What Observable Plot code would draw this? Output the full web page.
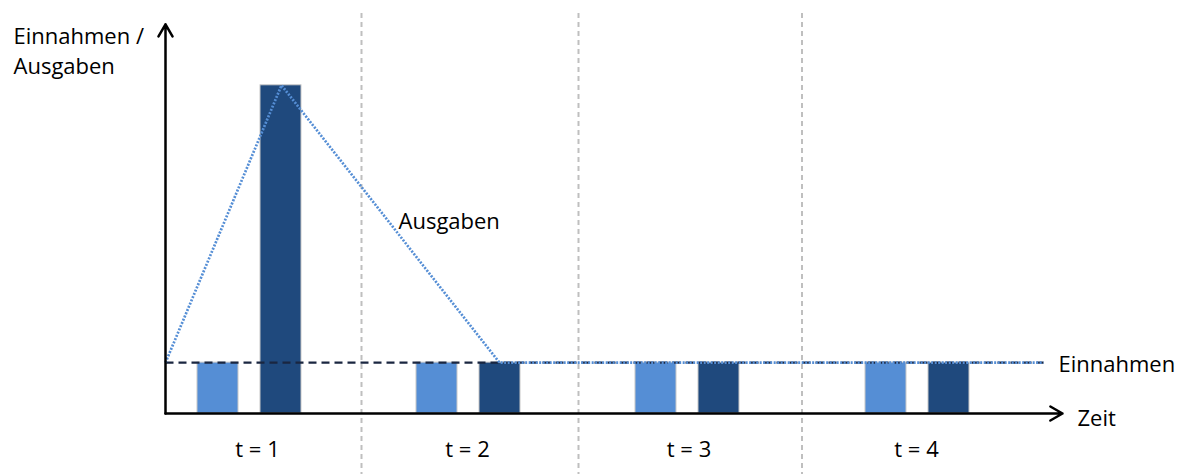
<!DOCTYPE html>
<html>
<head>
<meta charset="utf-8">
<script src="https://cdn.jsdelivr.net/npm/d3@7"></script>
<script src="https://cdn.jsdelivr.net/npm/@observablehq/plot@0.6"></script>
<style>
  html, body { margin: 0; padding: 0; background: #ffffff; }
  #chart svg { display: block; }
</style>
</head>
<body>
<div id="chart"></div>
<script>
// ---- data (time units along x, money units along y; Einnahmen = 1) ----
const periods = ["t = 1", "t = 2", "t = 3", "t = 4"];
const periodCenters = [0.92, 3.02, 5.235, 7.51];
const periodBounds = [1.96, 4.13, 6.365];
const einnahmenStart = [0.32, 2.51, 4.70, 7.00];
const ausgabenStart = [0.95, 3.14, 5.33, 7.63];
const barWidth = 0.41;
const einnahmenValues = [1, 1, 1, 1];
const ausgabenValues = [6.45, 1, 1, 1];
// Ausgaben curve (dotted)
const ausgabenCurveX = [0, 1.16, 3.34, 8.78];
const ausgabenCurveY = [1, 6.45, 1, 1];
// Einnahmen level (dashed)
const einnahmenLineX = [0, 8.78];
const einnahmenLevel = 1;
const axisTopY = 7.65;
const axisEndX = 8.97;

const einnahmenBars = periods.map((p, i) => ({period: p, x1: einnahmenStart[i], x2: einnahmenStart[i] + barWidth, y: einnahmenValues[i]}));
const ausgabenBars = periods.map((p, i) => ({period: p, x1: ausgabenStart[i], x2: ausgabenStart[i] + barWidth, y: ausgabenValues[i]}));
const ausgabenCurve = ausgabenCurveX.map((x, i) => ({x, y: ausgabenCurveY[i]}));
const einnahmenLine = einnahmenLineX.map(x => ({x, y: einnahmenLevel}));
const periodLabels = periods.map((p, i) => ({label: p, x: periodCenters[i]}));

const font = "'Open Sans', sans-serif";
const fs = 22;

const chart = Plot.plot({
  width: 1191,
  height: 474,
  margin: 0,
  style: {fontFamily: font, background: "#ffffff", overflow: "visible"},
  x: {type: "linear", domain: [0, 9], range: [165, 1065], axis: null},
  y: {type: "linear", domain: [0, 7.65], range: [413, 23.75], axis: null},
  marks: [
    // period separators
    Plot.ruleX(periodBounds, {x: d => d, y1: 7.86, y2: -1.3, stroke: "#BFBFBF", strokeWidth: 2, strokeDasharray: "5,4"}),
    // bars
    Plot.rect(einnahmenBars, {x1: "x1", x2: "x2", y1: 0, y2: "y", fill: "#558ED5", stroke: "#C8C8C8", strokeWidth: 1}),
    Plot.rect(ausgabenBars, {x1: "x1", x2: "x2", y1: 0, y2: "y", fill: "#1F497D", stroke: "#C8C8C8", strokeWidth: 1}),
    // Einnahmen level
    Plot.line(einnahmenLine, {x: "x", y: "y", stroke: "#1A2640", strokeWidth: 2.2, strokeDasharray: "8,5", strokeLinecap: "butt"}),
    // Ausgaben curve
    Plot.line(ausgabenCurve, {x: "x", y: "y", stroke: "#558ED5", strokeWidth: 2.7, strokeDasharray: "2,1.5", strokeLinecap: "butt", strokeLinejoin: "miter"}),
    // axes
    Plot.arrow([{}], {x1: 0, y1: 0, x2: 0, y2: axisTopY, stroke: "#000000", strokeWidth: 2.5, headLength: 8.4}),
    Plot.arrow([{}], {x1: 0, y1: 0, x2: axisEndX, y2: 0, stroke: "#000000", strokeWidth: 2.5, headLength: 8.4}),
    // texts
    Plot.text(periodLabels, {x: "x", y: -0.86, text: "label", lineAnchor: "bottom", textAnchor: "middle", fontSize: fs, fill: "#000000"}),
    Plot.text(["Einnahmen"], {x: 8.93, y: einnahmenLevel, text: d => d, textAnchor: "start", dy: 2.5, fontSize: fs, fill: "#000000"}),
    Plot.text(["Zeit"], {x: 9.12, y: 0, text: d => d, textAnchor: "start", dy: 5, fontSize: fs, fill: "#000000"}),
    Plot.text(["Ausgaben"], {x: 2.33, y: 3.62, text: d => d, textAnchor: "start", lineAnchor: "bottom", fontSize: fs, fill: "#000000"}),
    Plot.text(["Einnahmen /\nAusgaben"], {x: -1.52, y: 7.68, text: d => d, textAnchor: "start", lineAnchor: "top", lineHeight: 1.36, fontSize: fs, fill: "#000000"})
  ]
});
document.getElementById("chart").appendChild(chart);
</script>
</body>
</html>
